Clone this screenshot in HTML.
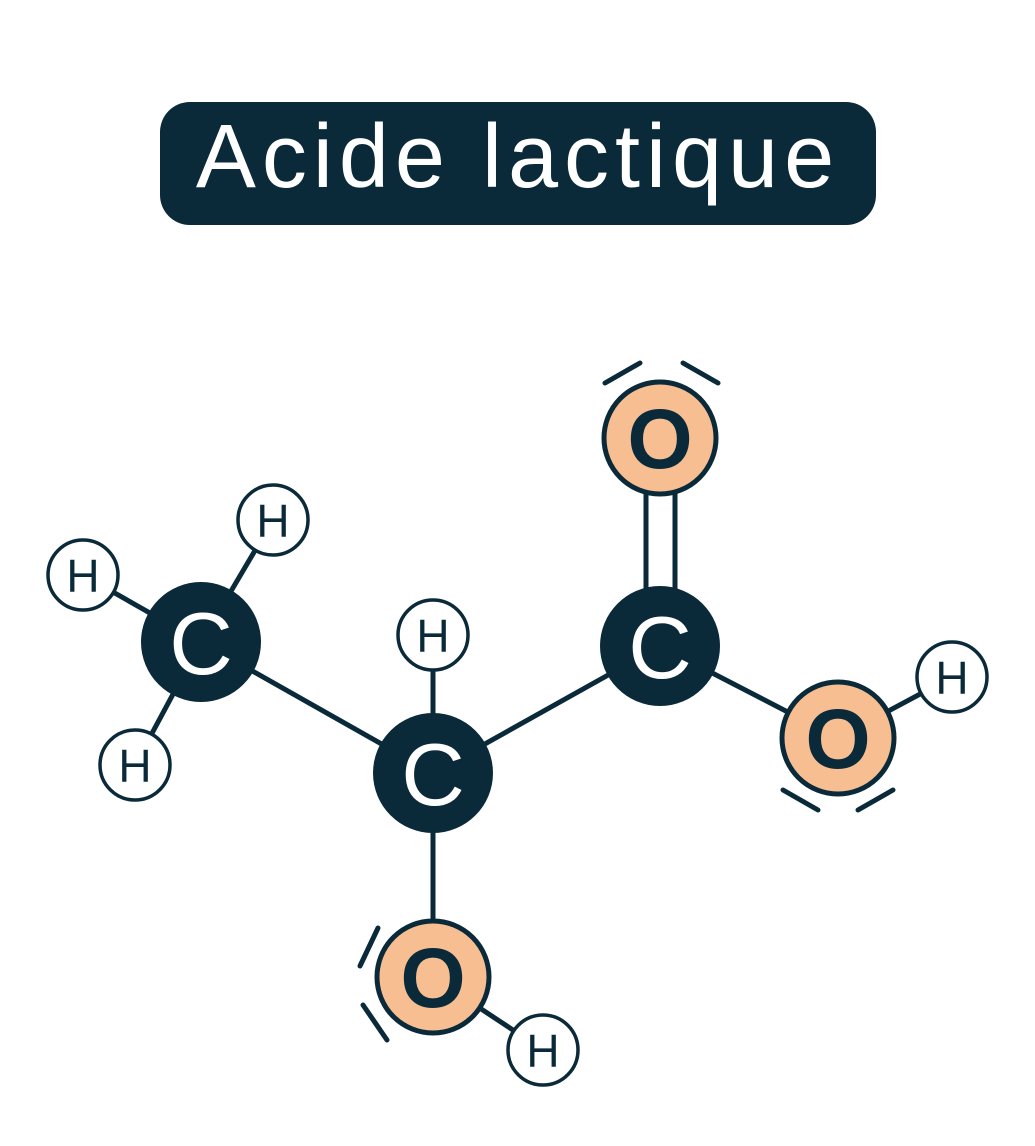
<!DOCTYPE html>
<html><head><style>body{margin:0;background:#fff}svg{display:block}</style></head><body>
<svg width="1035" height="1146" viewBox="0 0 1035 1146" xmlns="http://www.w3.org/2000/svg" font-family="Liberation Sans, sans-serif">
<rect x="160" y="102" width="716" height="123" rx="30" fill="#0a2a3a"/>
<text x="518" y="187" text-anchor="middle" fill="#fff" font-size="90" letter-spacing="6">Acide lactique</text>
<g stroke="#0a2a3a" stroke-width="5" stroke-linecap="round" fill="none">
<line x1="83" y1="575" x2="201" y2="642"/>
<line x1="273" y1="520" x2="201" y2="642"/>
<line x1="135" y1="765" x2="201" y2="642"/>
<line x1="201" y1="642" x2="433" y2="773"/>
<line x1="433" y1="635" x2="433" y2="773"/>
<line x1="433" y1="773" x2="660" y2="646"/>
<line x1="433" y1="773" x2="433" y2="977"/>
<line x1="433" y1="977" x2="543" y2="1050"/>
<line x1="660" y1="646" x2="838" y2="738"/>
<line x1="838" y1="738" x2="952" y2="677"/>
<line x1="646" y1="480" x2="646" y2="600" stroke-linecap="butt"/>
<line x1="675" y1="480" x2="675" y2="600" stroke-linecap="butt"/>
<line x1="605" y1="383" x2="640" y2="363"/><line x1="683" y1="363" x2="718" y2="383"/>
<line x1="783" y1="790" x2="818" y2="810"/><line x1="858" y1="810" x2="893" y2="790"/>
<line x1="360" y1="966" x2="378" y2="928"/><line x1="363" y1="1005" x2="387" y2="1040"/>
</g>
<g fill="#0a2a3a">
<circle cx="201" cy="642" r="60"/><circle cx="433" cy="773" r="60"/><circle cx="660" cy="646" r="60"/>
</g>
<g fill="#f7be92" stroke="#0a2a3a" stroke-width="5">
<circle cx="660" cy="438" r="56"/><circle cx="838" cy="738" r="56"/><circle cx="433" cy="977" r="56"/>
</g>
<g fill="#fff" stroke="#0a2a3a" stroke-width="3.5">
<circle cx="83" cy="575" r="35"/><circle cx="273" cy="520" r="35"/><circle cx="433" cy="635" r="35"/>
<circle cx="135" cy="765" r="35"/><circle cx="952" cy="677" r="35"/><circle cx="543" cy="1050" r="35"/>
</g>
<g font-size="88" text-anchor="middle" fill="#fff">
<text x="201" y="674">C</text><text x="433" y="805">C</text><text x="660" y="678">C</text>
</g>
<g font-size="84" font-weight="bold" text-anchor="middle" fill="#0a2a3a">
<text x="660" y="468">O</text><text x="838" y="768">O</text><text x="433" y="1007">O</text>
</g>
<g font-size="46" text-anchor="middle" fill="#0a2a3a">
<text x="83" y="592">H</text><text x="273" y="537">H</text><text x="433" y="652">H</text>
<text x="135" y="782">H</text><text x="952" y="694">H</text><text x="543" y="1067">H</text>
</g>
</svg>
</body></html>
